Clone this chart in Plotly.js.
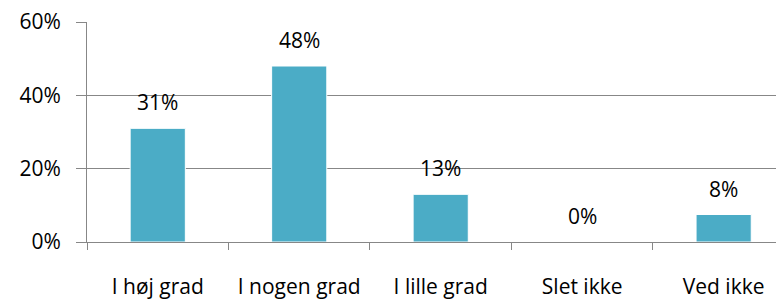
<!DOCTYPE html>
<html><head><meta charset="utf-8">
<script src="https://cdn.plot.ly/plotly-3.0.1.min.js"></script>
<style>html,body{margin:0;padding:0;background:#fff}</style>
</head><body>
<div id="chart" style="width:776px;height:300px"></div>
<script>
const categories = ["I høj grad", "I nogen grad", "I lille grad", "Slet ikke", "Ved ikke"];
const values = [0.31, 0.48, 0.13, 0.0, 0.075];
const labels = ["31%", "48%", "13%", "0%", "8%"];
const yTicks = [0, 0.2, 0.4, 0.6];
const yTickLabels = ["0%", "20%", "40%", "60%"];

const FONT = "'Open Sans', Lato, sans-serif";
const FS = 21;
const gridColor = "#878787";

const trace = {
  type: "bar",
  x: categories,
  y: values,
  width: 0.39,
  marker: {color: "#4BACC6", line: {color: "#ffffff", width: 1}},
  hoverinfo: "none"
};

const annotations = categories.map((c, i) => ({
  x: c, y: values[i], text: labels[i], showarrow: false,
  xref: "x", yref: "y", yanchor: "middle", yshift: 26,
  font: {family: FONT, size: FS, color: "#000"}
}));

const layout = {
  width: 776, height: 300,
  margin: {l: 87, r: 0, t: 22, b: 58},
  paper_bgcolor: "#fff", plot_bgcolor: "#fff",
  showlegend: false,
  font: {family: FONT, size: FS, color: "#000"},
  xaxis: {
    type: "category",
    range: [-0.5, 4.37],
    showgrid: false,
    showline: true, linecolor: gridColor, linewidth: 1,
    ticks: "outside", tickson: "boundaries", ticklen: 7, tickcolor: gridColor,
    ticklabelstandoff: 26,
    tickfont: {family: FONT, size: FS, color: "#000"},
    fixedrange: true
  },
  yaxis: {
    range: [0, 0.6],
    tickvals: yTicks, ticktext: yTickLabels,
    showgrid: true, gridcolor: gridColor, gridwidth: 1,
    zeroline: false,
    showline: true, linecolor: gridColor, linewidth: 1,
    ticks: "outside", ticklen: 10, tickcolor: gridColor,
    ticklabelstandoff: 11,
    tickfont: {family: FONT, size: FS, color: "#000"},
    fixedrange: true
  },
  annotations: annotations
};

Plotly.newPlot("chart", [trace], layout, {displayModeBar: false, staticPlot: true});
</script>
</body></html>
